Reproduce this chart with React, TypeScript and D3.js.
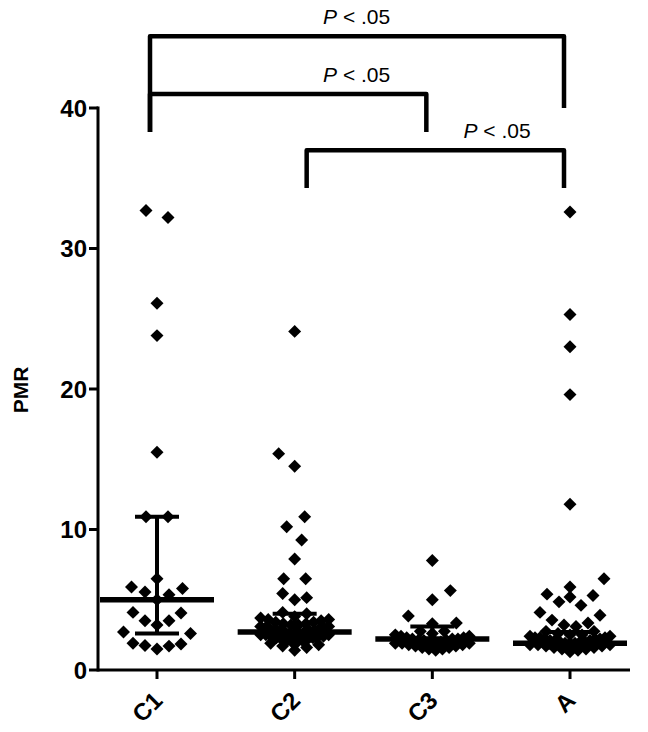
import React from 'react'
import * as d3 from 'd3'

const groups = ['C1', 'C2', 'C3', 'A']

const c1Values = [32.7, 32.2, 26.1, 23.8, 15.5, 10.9, 10.9, 6.5, 5.9, 5.8, 5.55, 5.35, 5.0, 4.1, 4.05, 3.5, 3.5, 3.2, 2.7, 2.6, 1.9, 1.85, 1.75, 1.7, 1.5]
const c2Values = [24.1, 15.4, 14.5, 10.9, 10.2, 9.25, 7.9, 6.5, 6.5, 5.45, 5.15, 5.0, 4.1, 4.0,
  3.8, 3.7, 3.6, 3.6, 3.5, 3.4, 3.4, 3.3, 3.3, 3.2, 3.2, 3.1, 3.1, 3.0, 3.0, 2.9, 2.9, 2.9, 2.8, 2.8, 2.8,
  2.7, 2.7, 2.6, 2.6, 2.6, 2.5, 2.5, 2.5, 2.4, 2.4, 2.4, 2.3, 2.3, 2.2, 2.2, 2.1, 2.1, 2.0, 2.0, 1.9, 1.8,
  1.7, 1.6, 1.4]
const c3Values = [7.8, 5.65, 5.0, 3.85, 3.35, 3.3, 2.75, 2.75, 2.6, 2.5,
  2.4, 2.4, 2.3, 2.3, 2.2, 2.2, 2.2, 2.1, 2.1, 2.1, 2.0, 2.0, 2.0, 1.9, 1.9, 1.9, 1.8, 1.8, 1.7, 1.7,
  1.6, 1.6, 1.5, 1.5, 1.4]
const aValues = [32.6, 25.3, 23.0, 19.6, 11.8, 6.5, 5.9, 5.4, 5.3, 5.2, 4.85, 4.6, 4.1, 3.9, 3.55, 3.35, 3.2, 3.1, 2.75, 2.75,
  2.6, 2.5, 2.5, 2.4, 2.4, 2.3, 2.3, 2.3, 2.2, 2.2, 2.2, 2.1, 2.1, 2.1, 2.0, 2.0, 2.0, 1.9, 1.9, 1.9,
  1.8, 1.8, 1.8, 1.7, 1.7, 1.6, 1.6, 1.5, 1.5, 1.4, 1.3]

const medians = [5.0, 2.7, 2.2, 1.9]
const q1s = [2.6, 2.1, 1.7, 1.6]
const q3s = [10.9, 4.0, 3.1, 2.7]

const yTicks = [0, 10, 20, 30, 40]

// significance brackets: y of bar, leg end on each side (PMR units)
const brackets = [
  { from: 0, to: 3, y: 45.1, endFrom: 38.3, endTo: 40, labelAt: 1.45, text: '.05' },
  { from: 0, to: 2, y: 41.0, endFrom: 38.3, endTo: 38.3, labelAt: 1.45, text: '.05' },
  { from: 1, to: 3, y: 37.0, endFrom: 34.3, endTo: 34.3, labelAt: 2.47, text: '.05' },
]
const legOffset = [-7, 12, -6, -6]
const spreadMax = [38, 34, 37, 40]

const font = "'Liberation Sans', Arial, sans-serif"

// row based scatter layout, lowest value of a row in the middle
function layout(values: number[], y: (v: number) => number, maxW: number) {
  const rowH = 8
  const minD = 14
  const minSingle = 20
  const pts = values.map(v => ({ v, py: y(v), dx: 0 })).sort((a, b) => a.v - b.v)
  const rows: typeof pts[] = []
  let cur: typeof pts = []
  for (const p of pts) {
    if (cur.length && cur[0].py - p.py > rowH) { rows.push(cur); cur = [] }
    cur.push(p)
  }
  if (cur.length) rows.push(cur)

  const placed: { py: number, dx: number }[] = []
  let side = 1
  for (const row of rows) {
    const n = row.length
    if (n === 1) {
      const p = row[0]
      let best = 0
      for (let k = 0; k <= maxW; k++) {
        const c = [side * k, -side * k].find(c =>
          placed.every(q => (c - q.dx) ** 2 + (p.py - q.py) ** 2 >= minSingle * minSingle))
        if (c !== undefined) { best = c; break }
      }
      p.dx = best
      if (best !== 0) side = best > 0 ? -1 : 1
      placed.push(p)
      continue
    }
    const offs = (sp: number) => {
      const o = d3.range(n).map(i => (i - (n - 1) / 2) * sp)
      return o.sort((a, b) => Math.abs(a) - Math.abs(b) || b - a)
    }
    const base = n === 2 ? 22 : 12
    const cap = (2 * maxW) / (n - 1)
    let chosen = Math.min(base, cap)
    for (let sp = base; sp <= cap; sp += 1) {
      const o = offs(sp)
      const ok = row.every((p, i) => Math.abs(o[i]) < 0.01 ||
        placed.every(q => (o[i] - q.dx) ** 2 + (p.py - q.py) ** 2 >= minD * minD))
      if (ok) { chosen = sp; break }
    }
    const o = offs(chosen)
    row.forEach((p, i) => { p.dx = o[i] })
    row.forEach(p => placed.push(p))
  }
  return pts
}

export default function App() {
  const width = 648
  const height = 732

  const x = d3.scalePoint<string>().domain(groups).range([157, 570])
  const xi = d3.scaleLinear().domain([0, 3]).range([157, 570])
  const y = d3.scaleLinear().domain([0, 40]).range([670, 108])

  const diamond = d3.symbol(d3.symbolSquare, 84)()
  const allValues = [c1Values, c2Values, c3Values, aValues]

  return (
    <svg width={width} height={height} style={{ position: 'absolute', left: 0, top: 0, background: '#fff' }}
      fontFamily={font}>
      {/* points */}
      {allValues.map((vals, gi) => (
        <g key={gi}>
          {layout(vals, y, spreadMax[gi]).map((p, i) => (
            <path key={i} d={diamond!} fill="#000"
              transform={`translate(${x(groups[gi])! + p.dx},${p.py}) rotate(45)`} />
          ))}
        </g>
      ))}

      {/* median and IQR */}
      {groups.map((g, gi) => {
        const cx = x(g)!
        return (
          <g key={g} stroke="#000">
            <line x1={cx} x2={cx} y1={y(q1s[gi])} y2={y(q3s[gi])} strokeWidth={4} />
            <line x1={cx - 22} x2={cx + 22} y1={y(q1s[gi])} y2={y(q1s[gi])} strokeWidth={4} />
            <line x1={cx - 22} x2={cx + 22} y1={y(q3s[gi])} y2={y(q3s[gi])} strokeWidth={4} />
            <line x1={cx - 57} x2={cx + 57} y1={y(medians[gi])} y2={y(medians[gi])} strokeWidth={5.5} />
          </g>
        )
      })}

      {/* y axis */}
      <line x1={98} x2={98} y1={y(40) - 1.5} y2={y(0) + 1.5} stroke="#000" strokeWidth={3} />
      {yTicks.map(t => (
        <g key={t}>
          <line x1={89} x2={98} y1={y(t)} y2={y(t)} stroke="#000" strokeWidth={3} />
          <text x={87} y={y(t)} dy="0.36em" textAnchor="end" fontSize={24} fontWeight="bold">{t}</text>
        </g>
      ))}
      <text transform={`translate(28,390) rotate(-90)`} textAnchor="middle" fontSize={21} fontWeight="bold">PMR</text>

      {/* x axis */}
      <line x1={98} x2={630} y1={y(0)} y2={y(0)} stroke="#000" strokeWidth={3} />
      {groups.map(g => (
        <g key={g}>
          <line x1={x(g)} x2={x(g)} y1={y(0)} y2={y(0) + 9} stroke="#000" strokeWidth={3} />
          <text transform={`translate(${x(g)! + 1},${y(0) + 26}) rotate(-45)`} textAnchor="end" dy="0.35em"
            fontSize={24} fontWeight="bold">{g}</text>
        </g>
      ))}

      {/* brackets */}
      {brackets.map((b, i) => {
        const xa = xi(b.from) + legOffset[b.from]
        const xb = xi(b.to) + legOffset[b.to]
        return (
          <g key={i}>
            <path d={`M${xa},${y(b.endFrom)}V${y(b.y)}H${xb}V${y(b.endTo)}`} fill="none" stroke="#000"
              strokeWidth={4.5} strokeLinejoin="round" />
            <text x={xi(b.labelAt)} y={y(b.y) - 12} textAnchor="middle" fontSize={21}>
              <tspan fontStyle="italic">P</tspan>{' < '}{b.text}
            </text>
          </g>
        )
      })}
    </svg>
  )
}
